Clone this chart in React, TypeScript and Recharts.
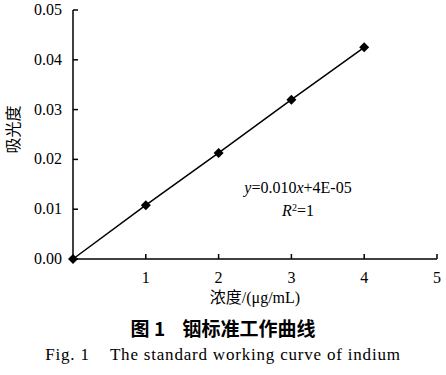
import { LineChart, Line, XAxis, YAxis, Label } from 'recharts'

const concentrations = [0, 1, 2, 3, 4]
const absorbance = [0.0, 0.0108, 0.0213, 0.032, 0.0425]
const xTicks = [1, 2, 3, 4, 5]
const yTicks = [0, 0.01, 0.02, 0.03, 0.04, 0.05]

const data = concentrations.map((c, i) => ({ c, a: absorbance[i] }))

const serif = 'Liberation Serif, Noto Sans CJK SC, serif'

const Diamond = (props: any) => {
  const { cx, cy } = props
  if (cx == null || cy == null) return null
  const r = 5
  return (
    <path
      d={`M${cx},${cy - r}L${cx + r},${cy}L${cx},${cy + r}L${cx - r},${cy}Z`}
      fill="#000"
      stroke="none"
    />
  )
}

const XTick = (props: any) => {
  const { x, y, payload } = props
  return (
    <text x={x} y={y + 27} textAnchor="middle" fill="#000" fontSize={16} style={{ fontFamily: serif }}>
      {payload.value}
    </text>
  )
}

const YTick = (props: any) => {
  const { x, y, payload } = props
  return (
    <text x={x - 14} y={y + 5} textAnchor="end" fill="#000" fontSize={16} style={{ fontFamily: serif }}>
      {Number(payload.value).toFixed(2)}
    </text>
  )
}

const XLabel = (props: any) => {
  const { viewBox } = props
  const cx = viewBox.x + viewBox.width / 2
  return (
    <text x={cx} y={viewBox.y + 44} textAnchor="middle" fill="#000" fontSize={16} style={{ fontFamily: serif }}>
      浓度/(μg/mL)
    </text>
  )
}

const YLabel = (props: any) => {
  const { viewBox } = props
  const cy = viewBox.y + viewBox.height / 2 - 5
  const x = 19
  return (
    <text
      x={x}
      y={cy}
      textAnchor="middle"
      fill="#000"
      fontSize={16}
      transform={`rotate(-90 ${x} ${cy})`}
      style={{ fontFamily: serif }}
    >
      吸光度
    </text>
  )
}

export default function App() {
  return (
    <div style={{ position: 'absolute', left: 0, top: 0, width: 446, height: 375, background: '#fff', fontFamily: serif }}>
      <LineChart
        width={446}
        height={309}
        data={data}
        margin={{ top: 10, right: 9, left: 0, bottom: 0 }}
        style={{ fontFamily: serif }}
      >
        <XAxis
          dataKey="c"
          type="number"
          domain={[0, 5]}
          ticks={xTicks}
          height={50}
          axisLine={{ stroke: '#000', strokeWidth: 1.5 }}
          tickLine={{ stroke: '#000', strokeWidth: 1.5 }}
          tickSize={-5}
          tick={<XTick />}
        >
          <Label content={<XLabel />} />
        </XAxis>
        <YAxis
          type="number"
          domain={[0, 0.05]}
          ticks={yTicks}
          width={73}
          axisLine={{ stroke: '#000', strokeWidth: 1.5 }}
          tickLine={{ stroke: '#000', strokeWidth: 1.5 }}
          tickSize={-5}
          tick={<YTick />}
        >
          <Label content={<YLabel />} />
        </YAxis>
        <Line
          type="linear"
          dataKey="a"
          stroke="#000"
          strokeWidth={1.5}
          dot={<Diamond />}
          activeDot={false}
          isAnimationActive={false}
        />
      </LineChart>
      <div style={{ position: 'absolute', left: 203, top: 176, width: 190, textAlign: 'center', fontSize: 16, lineHeight: '23px', color: '#000' }}>
        <div><i>y</i>=0.010<i>x</i>+4E-05</div>
        <div><i>R</i><sup style={{ fontSize: 10, verticalAlign: 'top', lineHeight: '18px' }}>2</sup>=1</div>
      </div>
      <div style={{ position: 'absolute', left: 0, top: 314, width: 446, textAlign: 'center', fontSize: 19, fontWeight: 'bold', color: '#000', fontFamily: 'Noto Sans CJK SC, sans-serif' }}>
        图 1&nbsp;&nbsp;&nbsp;&nbsp;铟标准工作曲线
      </div>
      <div style={{ position: 'absolute', left: 0, top: 345, width: 446, textAlign: 'center', fontSize: 17, letterSpacing: 0.8, color: '#000' }}>
        Fig. 1&nbsp;&nbsp;&nbsp;&nbsp;The standard working curve of indium
      </div>
    </div>
  )
}
